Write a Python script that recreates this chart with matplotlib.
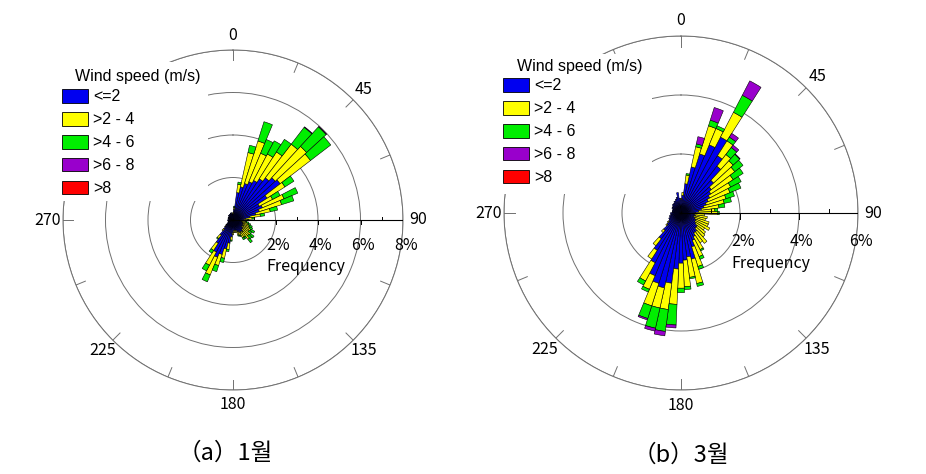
import numpy as np
import matplotlib
matplotlib.use("Agg")
import matplotlib.pyplot as plt
from matplotlib.patches import Patch, Rectangle

# direction bins (deg, clockwise from north), 5 degree sectors
directions = np.arange(0, 360, 5)

speed_labels = ["<=2", ">2 - 4", ">4 - 6", ">6 - 8", ">8"]
speed_colors = ["#0000f0", "#ffff00", "#00ee00", "#9900cc", "#ff0000"]
angle_ticks = [0, 45, 90, 135, 180, 225, 270]

# January frequency (%) per direction bin and speed class
jan_le2 = [0.30, 0.50, 1.30, 1.60, 1.80, 1.95, 2.10, 2.30, 2.50, 2.70, 2.80, 1.90,
           1.40, 1.50, 1.30, 1.10, 0.80, 0.60, 0.50, 0.40, 0.40, 0.45, 0.50, 0.50,
           0.55, 0.50, 0.60, 0.60, 0.70, 0.65, 0.70, 0.60, 0.60, 0.50, 0.50, 0.50,
           0.60, 0.80, 1.10, 1.40, 1.70, 1.90, 1.70, 1.30, 0.90, 0.60, 0.45, 0.35,
           0.30, 0.25, 0.25, 0.20, 0.20, 0.25, 0.25, 0.20, 0.20, 0.20, 0.25, 0.25,
           0.25, 0.20, 0.25, 0.30, 0.25, 0.30, 0.30, 0.30, 0.35, 0.30, 0.35, 0.30]
jan_2_4 = [0.05, 0.10, 0.40, 1.65, 2.10, 1.45, 1.40, 1.50, 2.00, 2.00, 1.80, 1.00,
           0.70, 1.10, 1.10, 0.70, 0.50, 0.30, 0.20, 0.20, 0.25, 0.30, 0.30, 0.35,
           0.40, 0.40, 0.45, 0.40, 0.45, 0.30, 0.25, 0.20, 0.15, 0.10, 0.10, 0.10,
           0.10, 0.15, 0.30, 0.45, 0.55, 0.90, 0.70, 0.40, 0.20, 0.10, 0.05, 0.05,
           0, 0, 0, 0, 0, 0, 0, 0, 0, 0, 0, 0,
           0, 0, 0, 0, 0, 0, 0, 0, 0, 0, 0, 0]
jan_4_6 = [0, 0.05, 0.10, 0.35, 0.95, 0.70, 0.70, 0.70, 1.00, 1.25, 1.20, 0.50,
           0.40, 0.70, 0.60, 0.35, 0.20, 0.10, 0.05, 0.05, 0.10, 0.10, 0.15, 0.15,
           0.20, 0.15, 0.20, 0.20, 0.20, 0.10, 0.10, 0.05, 0.05, 0, 0, 0,
           0, 0.05, 0.10, 0.20, 0.30, 0.35, 0.30, 0.15, 0.05, 0, 0, 0,
           0, 0, 0, 0, 0, 0, 0, 0, 0, 0, 0, 0,
           0, 0, 0, 0, 0, 0, 0, 0, 0, 0, 0, 0]
jan_6_8 = [0, 0, 0, 0, 0, 0, 0, 0, 0.03, 0.03, 0, 0] + [0] * 60
jan_gt8 = [0] * 72

# March frequency (%) per direction bin and speed class
mar_le2 = [0.45, 0.60, 1.00, 1.60, 2.10, 2.50, 2.90, 2.30, 2.00, 1.50, 1.30, 1.20,
           1.10, 1.00, 0.90, 0.80, 0.70, 0.60, 0.50, 0.45, 0.50, 0.45, 0.50, 0.55,
           0.55, 0.60, 0.70, 0.70, 0.80, 0.80, 0.90, 1.00, 1.20, 1.60, 1.50, 1.60,
           1.70, 1.90, 2.40, 2.60, 2.50, 2.30, 1.90, 1.50, 1.10, 0.80, 0.60, 0.50,
           0.45, 0.45, 0.40, 0.40, 0.35, 0.35, 0.35, 0.30, 0.30, 0.30, 0.30, 0.30,
           0.35, 0.35, 0.35, 0.40, 0.40, 0.40, 0.45, 0.45, 0.50, 0.55, 0.70, 0.50]
mar_2_4 = [0.05, 0.10, 0.30, 0.70, 1.00, 0.60, 0.95, 0.60, 0.50, 0.90, 1.00, 0.90,
           0.80, 0.80, 0.70, 0.70, 0.60, 0.55, 0.75, 0.35, 0.40, 0.40, 0.50, 0.45,
           0.55, 0.35, 0.35, 0.40, 0.50, 0.40, 0.50, 0.60, 0.70, 0.85, 0.70, 0.90,
           0.85, 1.20, 0.90, 0.70, 0.80, 0.50, 0.70, 0.35, 0.30, 0.10, 0.05, 0.05,
           0, 0, 0, 0, 0, 0, 0, 0, 0, 0, 0, 0,
           0, 0, 0, 0, 0, 0, 0, 0, 0, 0, 0, 0]
mar_4_6 = [0, 0, 0.05, 0.10, 0.20, 0.10, 0.65, 0.15, 0.30, 0.30, 0.35, 0.40,
           0.40, 0.40, 0.30, 0.25, 0.20, 0.10, 0.05, 0, 0, 0, 0, 0,
           0, 0, 0, 0, 0, 0, 0.05, 0.10, 0.10, 0.10, 0.05, 0.10,
           0.15, 0.70, 0.75, 0.70, 0.45, 0.10, 0.15, 0, 0, 0, 0, 0,
           0, 0, 0, 0, 0, 0, 0, 0, 0, 0, 0, 0,
           0, 0, 0, 0, 0, 0, 0, 0, 0, 0, 0, 0]
mar_6_8 = [0, 0, 0, 0.25, 0.45, 0, 0.55, 0.15, 0.10, 0.02, 0, 0,
           0, 0, 0, 0, 0, 0, 0, 0, 0, 0, 0, 0,
           0, 0, 0, 0, 0, 0, 0, 0, 0, 0, 0, 0,
           0, 0.10, 0.15, 0.10, 0.05, 0, 0, 0, 0, 0, 0, 0,
           0, 0, 0, 0, 0, 0, 0, 0, 0, 0, 0, 0,
           0, 0, 0, 0, 0, 0, 0, 0, 0, 0, 0, 0]
mar_gt8 = [0] * 72

KR = ["Noto Sans CJK KR", "DejaVu Sans"]
LEG = ["Liberation Sans", "DejaVu Sans"]
W, H = 926, 474


def draw_rose(ax, classes, rmax, lab_dy, freq_dy):
    ax.set_theta_zero_location("N")
    ax.set_theta_direction(-1)
    ax.set_ylim(0, rmax)
    ax.set_axisbelow(True)
    ax.set_xticks([])
    ax.set_yticks(np.arange(2, rmax + 1, 2))
    ax.set_yticklabels([])
    ax.yaxis.grid(True, color="#707070", linewidth=0.7)
    ax.spines["polar"].set_color("#707070")
    ax.spines["polar"].set_linewidth(0.7)

    theta = np.deg2rad(directions)
    width = np.deg2rad(5)
    bottom = np.zeros(len(directions))
    for vals, col in zip(classes, speed_colors):
        vals = np.asarray(vals, dtype=float)
        m = vals > 0
        ax.bar(theta[m], vals[m], width=width, bottom=bottom[m], color=col,
               edgecolor="black", linewidth=0.4, zorder=2)
        bottom += vals

    # outer ticks every 22.5 deg
    for a in np.arange(0, 360, 22.5):
        t = np.deg2rad(a)
        ax.plot([t, t], [rmax * 0.94, rmax], color="#707070", lw=0.7, zorder=1)
    for a in angle_ticks:
        ax.text(np.deg2rad(a), rmax * 1.088, str(a), ha="center", va="center",
                fontsize=11.5, family=KR)

    # radial axis along 90 deg
    half = np.pi / 2
    ax.plot([half, half], [0, rmax], color="black", lw=0.8, zorder=3)
    for v in range(1, rmax + 1):
        L = 0.2 if v % 2 == 0 else -0.12
        ax.plot([half, half + np.arctan(L / v)], [v, np.hypot(v, L)],
                color="black", lw=0.7, zorder=3)
    for v in range(2, rmax + 1, 2):
        ax.annotate(f"{v}%", xy=(half, v), xytext=(2, -lab_dy),
                    textcoords="offset points", ha="center", va="center",
                    fontsize=11.5, family=KR)
    ax.annotate("Frequency", xy=(half, 2), xytext=(-6.5, -freq_dy),
                textcoords="offset points", ha="left", va="center",
                fontsize=11.5, family=KR)


def draw_legend(fig, box, title_xy, handle_xy):
    x0, y0, x1, y1 = box
    fig.patches.append(Rectangle((x0 / W, 1 - y1 / H), (x1 - x0) / W, (y1 - y0) / H,
                                 transform=fig.transFigure, facecolor="white",
                                 edgecolor="none", zorder=1))
    fig.text(title_xy[0] / W, 1 - title_xy[1] / H, "Wind speed (m/s)", ha="left",
             va="center", family=LEG, fontsize=11.5, zorder=3)
    handles = [Patch(facecolor=c, edgecolor="black", linewidth=0.6, label=l)
               for c, l in zip(speed_colors, speed_labels)]
    fig.legend(handles=handles, loc="upper left",
               bbox_to_anchor=(handle_xy[0] / W, 1 - handle_xy[1] / H),
               prop={"family": LEG, "size": 11.5}, frameon=False,
               handlelength=1.6, handleheight=0.95, labelspacing=0.47,
               handletextpad=0.35, borderpad=0, borderaxespad=0)


fig = plt.figure(figsize=(9.26, 4.74), dpi=100)

ax1 = fig.add_axes([(233 - 170) / W, (H - 220 - 170) / H, 340 / W, 340 / H],
                   projection="polar")
draw_rose(ax1, [jan_le2, jan_2_4, jan_4_6, jan_6_8, jan_gt8], 8, 18.5, 33.5)

ax2 = fig.add_axes([(681 - 177) / W, (H - 213 - 177) / H, 354 / W, 354 / H],
                   projection="polar")
draw_rose(ax2, [mar_le2, mar_2_4, mar_4_6, mar_6_8, mar_gt8], 6, 20.5, 36)

draw_legend(fig, (56, 62, 208, 201), (75, 77), (62, 89))
draw_legend(fig, (496, 54, 652, 194), (517, 66), (503, 78))

fig.text(225 / W, 1 - 453 / H, "（a）1월", ha="center", va="center", fontsize=17, family=KR)
fig.text(681 / W, 1 - 455 / H, "（b）3월", ha="center", va="center", fontsize=17, family=KR)

fig.savefig("out.png", dpi=100)
